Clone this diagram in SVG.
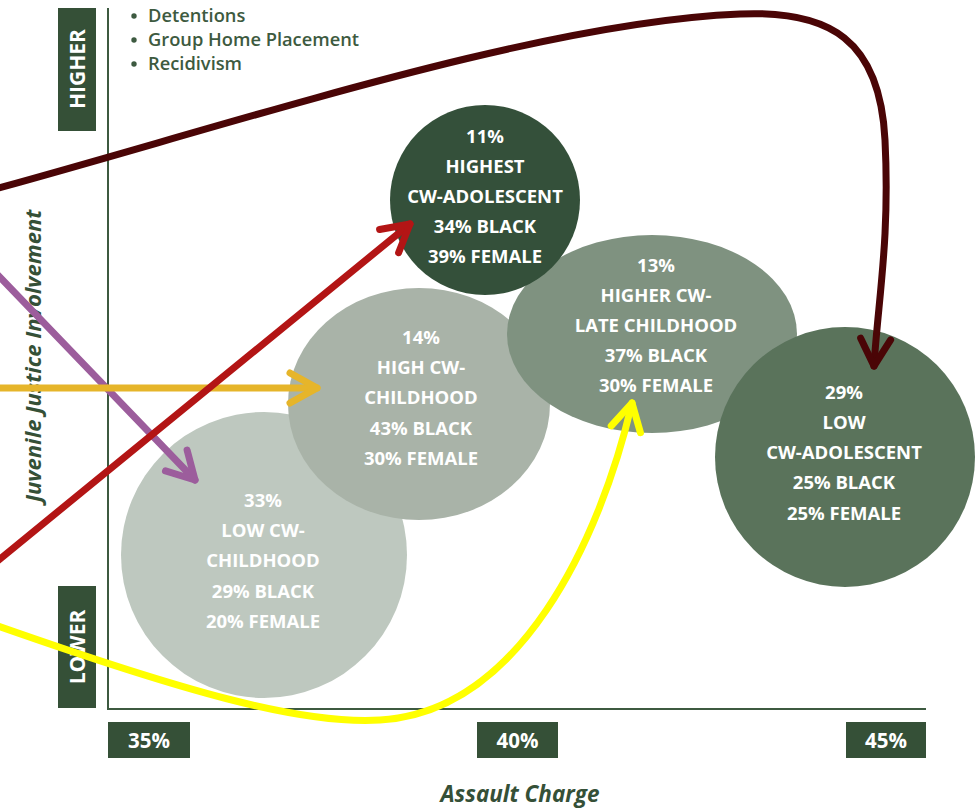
<svg xmlns="http://www.w3.org/2000/svg" width="979" height="809" viewBox="0 0 979 809">
<defs>
<style>
.box{fill:#355037}
.lbl{font-family:"Open Sans","Liberation Sans",sans-serif;font-weight:700;fill:#ffffff;text-anchor:middle}
.nt{font-family:"Open Sans","Liberation Sans",sans-serif;font-weight:700;font-size:18.5px;fill:#ffffff;text-anchor:middle}
.axis{stroke:#3d5a40;stroke-width:2;fill:none}
.bul{font-family:"Open Sans","Liberation Sans",sans-serif;font-weight:600;font-size:18.3px;fill:#3d5a40}
.ttl{font-family:"Open Sans","Liberation Sans",sans-serif;font-weight:700;font-style:italic;fill:#355037;text-anchor:middle}
.c{fill:none;stroke-width:7;stroke-linecap:round;stroke-linejoin:round}
</style>
<marker id="mMaroon" viewBox="-40 -25 50 50" refX="0" refY="0" markerWidth="50" markerHeight="50" markerUnits="userSpaceOnUse" orient="auto" overflow="visible"><path d="M-27,-15 L0,0 L-27,15" fill="none" stroke="#4a0506" stroke-width="7" stroke-linecap="round" stroke-linejoin="round"/></marker>
<marker id="mPurple" viewBox="-40 -25 50 50" refX="0" refY="0" markerWidth="50" markerHeight="50" markerUnits="userSpaceOnUse" orient="auto" overflow="visible"><path d="M-27,-15 L0,0 L-27,15" fill="none" stroke="#9c5d9c" stroke-width="7" stroke-linecap="round" stroke-linejoin="round"/></marker>
<marker id="mGold" viewBox="-40 -25 50 50" refX="0" refY="0" markerWidth="50" markerHeight="50" markerUnits="userSpaceOnUse" orient="auto" overflow="visible"><path d="M-27,-15 L0,0 L-27,15" fill="none" stroke="#e6b52a" stroke-width="7" stroke-linecap="round" stroke-linejoin="round"/></marker>
<marker id="mRed" viewBox="-40 -25 50 50" refX="0" refY="0" markerWidth="50" markerHeight="50" markerUnits="userSpaceOnUse" orient="auto" overflow="visible"><path d="M-27,-15 L0,0 L-27,15" fill="none" stroke="#b31515" stroke-width="7" stroke-linecap="round" stroke-linejoin="round"/></marker>
<marker id="mYellow" viewBox="-40 -25 50 50" refX="0" refY="0" markerWidth="50" markerHeight="50" markerUnits="userSpaceOnUse" orient="auto" overflow="visible"><path d="M-27,-15 L0,0 L-27,15" fill="none" stroke="#ffff00" stroke-width="7" stroke-linecap="round" stroke-linejoin="round"/></marker>
</defs>
<rect width="979" height="809" fill="#ffffff"/>

<g id="axes">
<line class="axis" x1="108" y1="8" x2="108" y2="709"/>
<line class="axis" x1="107" y1="709" x2="926" y2="709"/>
</g>

<g id="legend">
<circle cx="134" cy="16" r="2.7" fill="#3d5a40"/>
<circle cx="134" cy="40" r="2.7" fill="#3d5a40"/>
<circle cx="134" cy="64" r="2.7" fill="#3d5a40"/>
<text class="bul" x="148" y="22">Detentions</text>
<text class="bul" x="148" y="46">Group Home Placement</text>
<text class="bul" x="148" y="70">Recidivism</text>
</g>

<g id="y-higher">
<rect class="box" x="58" y="8" width="38" height="123"/>
<text class="lbl" font-size="21" transform="translate(85,69) rotate(-90)" x="0" y="0">HIGHER</text>
</g>
<g id="y-lower">
<rect class="box" x="58" y="586" width="38" height="122"/>
<text class="lbl" font-size="21" transform="translate(85,647) rotate(-90)" x="0" y="0">LOWER</text>
</g>
<g id="y-title">
<text class="ttl" font-size="22" transform="translate(41,356) rotate(-90)" x="0" y="0">Juvenile Justice Involvement</text>
</g>

<g id="x35"><rect class="box" x="108" y="722" width="82" height="36"/><text class="lbl" font-size="20.5" x="149" y="748">35%</text></g>
<g id="x40"><rect class="box" x="477" y="722" width="81" height="36"/><text class="lbl" font-size="20.5" x="517.5" y="748">40%</text></g>
<g id="x45"><rect class="box" x="846" y="722" width="80" height="36"/><text class="lbl" font-size="20.5" x="886" y="748">45%</text></g>
<g id="x-title"><text class="ttl" font-size="22.5" x="520" y="802">Assault Charge</text></g>

<g id="low-cw-childhood">
<ellipse cx="264" cy="555" rx="143" ry="143" fill="#bec8bf"/>
<text class="nt" x="263" y="507">33%</text>
<text class="nt" x="263" y="537">LOW CW-</text>
<text class="nt" x="263" y="567">CHILDHOOD</text>
<text class="nt" x="263" y="598">29% BLACK</text>
<text class="nt" x="263" y="628">20% FEMALE</text>
</g>
<g id="high-cw-childhood">
<ellipse cx="419" cy="404" rx="131" ry="116" fill="#a9b3a8"/>
<text class="nt" x="421" y="344">14%</text>
<text class="nt" x="421" y="374">HIGH CW-</text>
<text class="nt" x="421" y="404">CHILDHOOD</text>
<text class="nt" x="421" y="435">43% BLACK</text>
<text class="nt" x="421" y="465">30% FEMALE</text>
</g>
<g id="higher-cw-late-childhood">
<ellipse cx="652" cy="334" rx="145" ry="99" fill="#7f9280"/>
<text class="nt" x="656" y="272">13%</text>
<text class="nt" x="656" y="302">HIGHER CW-</text>
<text class="nt" x="656" y="332">LATE CHILDHOOD</text>
<text class="nt" x="656" y="362">37% BLACK</text>
<text class="nt" x="656" y="392">30% FEMALE</text>
</g>
<g id="highest-cw-adolescent">
<circle cx="485" cy="200" r="95" fill="#34503a"/>
<text class="nt" x="485" y="143">11%</text>
<text class="nt" x="485" y="173">HIGHEST</text>
<text class="nt" x="485" y="203">CW-ADOLESCENT</text>
<text class="nt" x="485" y="233">34% BLACK</text>
<text class="nt" x="485" y="263">39% FEMALE</text>
</g>
<g id="low-cw-adolescent">
<circle cx="845" cy="457" r="130" fill="#5a735b"/>
<text class="nt" x="844" y="399">29%</text>
<text class="nt" x="844" y="429">LOW</text>
<text class="nt" x="844" y="459">CW-ADOLESCENT</text>
<text class="nt" x="844" y="489">25% BLACK</text>
<text class="nt" x="844" y="520">25% FEMALE</text>
</g>

<g id="connectors">
<path class="c" stroke="#9c5d9c" d="M-5,272 L195,480" marker-end="url(#mPurple)"/>
<path class="c" stroke="#e6b52a" d="M-5,388 L317,388" marker-end="url(#mGold)"/>
<path class="c" stroke="#b31515" d="M-5,563 L410,224" marker-end="url(#mRed)"/>
<path class="c" stroke="#ffff00" d="M-5,625 C180,690 300,725 380,720 C520,712 600,540 632,403" marker-end="url(#mYellow)"/>
<path class="c" stroke="#4a0506" d="M-5,189 C240,122 540,22 740,14 C830,10 880,40 885,140 C890,240 878,300 874,366" marker-end="url(#mMaroon)"/>
</g>
</svg>
